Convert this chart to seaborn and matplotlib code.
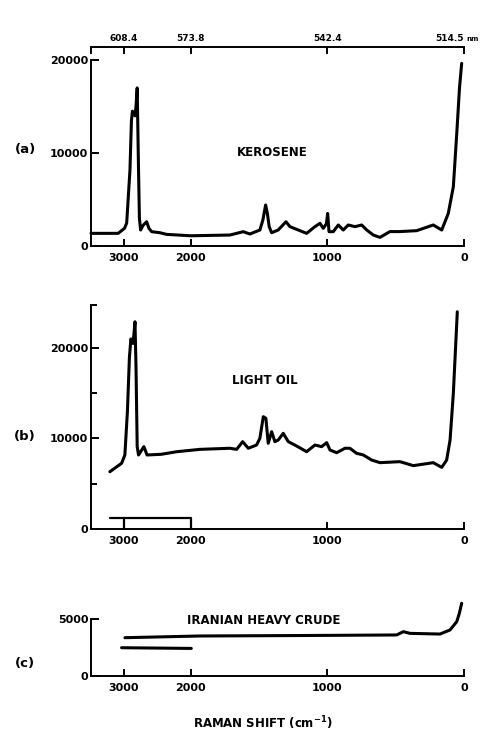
import numpy as np
import pandas as pd
import matplotlib
matplotlib.use("Agg")
import matplotlib.pyplot as plt
import seaborn as sns

# ---------------- data (Raman shift in cm^-1, intensity in counts) ----------------
kero_shift = [3490, 3084, 2990, 2957, 2908, 2886, 2871, 2833, 2818, 2800, 2782, 2767, 2749,
              2714, 2659, 2625, 2584, 2461, 2361, 2000, 1713, 1616, 1567, 1494, 1472, 1452,
              1439, 1426, 1408, 1360, 1303, 1274, 1213, 1152, 1091, 1054, 1030, 1007, 998,
              988, 957, 920, 884, 847, 798, 749, 712, 664, 615, 542, 469, 346, 225, 163,
              115, 78, 53, 33, 17]
kero_int = [1360, 1360, 1900, 2470, 8170, 13500, 14500, 14000, 15000, 17000, 9000, 3000, 1720,
            2200, 2610, 1900, 1540, 1430, 1250, 1100, 1180, 1540, 1290, 1720, 2800, 4410,
            3500, 2080, 1430, 1720, 2610, 2080, 1720, 1360, 2080, 2440, 1900, 2400, 3500,
            1540, 1540, 2260, 1720, 2260, 2080, 2260, 1720, 1180, 930, 1550, 1550, 1650, 2260, 1720,
            3500, 6380, 12100, 17000, 19640]

light_shift = [3208, 3033, 2984, 2946, 2916, 2894, 2863, 2849, 2833, 2818, 2800, 2780, 2700,
               2653, 2445, 2210, 1933, 1713, 1664, 1620, 1579, 1518, 1494, 1469, 1450, 1433,
               1408, 1384, 1360, 1323, 1286, 1225, 1152, 1091, 1042, 1005, 981, 932, 871,
               835, 786, 737, 676, 615, 469, 371, 225, 163, 127, 102, 78, 49]
light_int = [6330, 7260, 8180, 13000, 19000, 21000, 20500, 21500, 22900, 18000, 9100, 8180, 9100,
             8180, 8250, 8540, 8800, 8920, 8800, 9650, 8920, 9280, 10020, 12410, 12230, 9470,
             10750, 9650, 9830, 10570, 9650, 9170, 8540, 9280, 9100, 9540, 8730, 8430, 8920,
             8920, 8360, 8180, 7620, 7330, 7440, 7000, 7330, 6810, 7620, 9830, 15000, 24000]

light_bar_shift = [3200, 2000, 2000]
light_bar_int = [1250, 1250, 0]
light_bar2_shift = [3000, 3000]
light_bar2_int = [1250, 0]

crude_shift = [2983, 1933, 1200, 493, 444, 395, 176, 102, 53, 34, 17]
crude_int = [3360, 3510, 3550, 3600, 3890, 3740, 3680, 4040, 4770, 5500, 6380]
crude_low_shift = [3033, 1996]
crude_low_int = [2480, 2420]

bottom_ticks = [3000, 2000, 1000, 0]
bottom_labels = ["3000", "2000", "1000", "0"]
top_labels = ["608.4", "573.8", "542.4", "514.5"]
top_unit = "nm"

# ---------------- style ----------------
sns.set_theme(style="white")
plt.rcParams["font.family"] = ["DejaVu Sans"]
plt.rcParams["font.weight"] = "bold"

COMP = 0.49  # compression of the 2000-3000 cm^-1 region


def fwd(s):
    s = np.asarray(s, dtype=float)
    return np.where(s <= 2000, s, 2000 + (s - 2000) * COMP)


def inv(u):
    u = np.asarray(u, dtype=float)
    return np.where(u <= 2000, u, 2000 + (u - 2000) / COMP)


XLIM = (3490, 0)
LW = 2.2
SPW = 1.4

fig = plt.figure(figsize=(4.86, 7.31), dpi=100)
L, W = 91 / 486, 373 / 486
ax_a = fig.add_axes([L, 1 - 246 / 731, W, (246 - 47) / 731])
ax_b = fig.add_axes([L, 1 - 529 / 731, W, (529 - 305) / 731])
ax_c = fig.add_axes([L, 1 - 676 / 731, W, (676 - 619) / 731])


def style_axis(ax, ylim, yticks, ylabels, yminor, ybounds):
    ax.set_xscale("function", functions=(fwd, inv))
    ax.set_xlim(*XLIM)
    ax.set_ylim(*ylim)
    ax.set_facecolor("white")
    for sp in ["top", "right"]:
        ax.spines[sp].set_visible(False)
    for sp in ["left", "bottom"]:
        ax.spines[sp].set_color("black")
        ax.spines[sp].set_linewidth(SPW)
    ax.spines["left"].set_bounds(*ybounds)
    ax.set_xticks(bottom_ticks)
    ax.set_xticklabels(bottom_labels)
    ax.set_xticks([], minor=True)
    ax.set_yticks(yticks)
    ax.set_yticklabels(ylabels)
    ax.set_yticks(yminor, minor=True)
    ax.tick_params(axis="x", which="major", direction="in", length=5, width=SPW,
                   pad=5, labelsize=8, colors="black", bottom=True)
    ax.tick_params(axis="y", which="both", direction="in", length=6, width=SPW,
                   pad=2, labelsize=8, colors="black", left=True)
    ax.tick_params(axis="y", which="minor", length=4)
    for t in ax.get_xticklabels() + ax.get_yticklabels():
        t.set_fontweight("bold")
    ax.set_xlabel("")
    ax.set_ylabel("")
    ax.grid(False)


# (a) kerosene
df_a = pd.DataFrame({"shift": kero_shift, "intensity": kero_int})
sns.lineplot(data=df_a, x="shift", y="intensity", ax=ax_a, sort=False, estimator=None,
             color="black", linewidth=LW)
style_axis(ax_a, (0, 21400), [0, 10000, 20000], ["0", "10000", "20000"], [], (0, 20000))

ax_top = ax_a.twiny()
ax_top.set_xscale("function", functions=(fwd, inv))
ax_top.set_xlim(*XLIM)
for sp in ["bottom", "left", "right"]:
    ax_top.spines[sp].set_visible(False)
ax_top.spines["top"].set_color("black")
ax_top.spines["top"].set_linewidth(SPW)
ax_top.set_xticks(bottom_ticks)
ax_top.set_xticklabels(top_labels)
ax_top.set_xticks([3490], minor=True)
ax_top.tick_params(axis="x", which="both", direction="in", length=5, width=SPW,
                   pad=3, labelsize=6.5, colors="black")
for t in ax_top.get_xticklabels():
    t.set_fontweight("bold")
ax_top.get_xticklabels()[-1].set_horizontalalignment("right")
ax_top.grid(False)

# (b) light oil
df_b = pd.DataFrame({"shift": light_shift, "intensity": light_int})
sns.lineplot(data=df_b, x="shift", y="intensity", ax=ax_b, sort=False, estimator=None,
             color="black", linewidth=LW, clip_on=False)
sns.lineplot(x=light_bar_shift, y=light_bar_int, ax=ax_b, sort=False, estimator=None,
             color="black", linewidth=1.6)
sns.lineplot(x=light_bar2_shift, y=light_bar2_int, ax=ax_b, sort=False, estimator=None,
             color="black", linewidth=1.6)
style_axis(ax_b, (0, 24750), [0, 10000, 20000], ["0", "10000", "20000"],
           [5000, 15000, 24750], (0, 24750))

# (c) Iranian heavy crude
df_c = pd.DataFrame({"shift": crude_shift, "intensity": crude_int})
sns.lineplot(data=df_c, x="shift", y="intensity", ax=ax_c, sort=False, estimator=None,
             color="black", linewidth=LW, clip_on=False)
sns.lineplot(x=crude_low_shift, y=crude_low_int, ax=ax_c, sort=False, estimator=None,
             color="black", linewidth=LW)
style_axis(ax_c, (0, 5000), [0, 5000], ["0", "5000"], [], (0, 5000))

for ax in (ax_a, ax_b, ax_c):
    for ln in ax.get_lines():
        ln.set_clip_on(False)
    leg = ax.get_legend()
    if leg is not None:
        leg.remove()


def ftext(x, y, s, size, ha="center", **kw):
    fig.text(x / 486, 1 - y / 731, s, fontsize=size, fontweight="bold",
             ha=ha, va="center", color="black", **kw)


ftext(466, 39, top_unit, 5, ha="left")
ftext(25, 150, "(a)", 9.5)
ftext(25, 436, "(b)", 9.5)
ftext(25, 664, "(c)", 9.5)
ftext(272, 152, "KEROSENE", 8.5)
ftext(265, 380, "LIGHT OIL", 8.5)
ftext(264, 621, "IRANIAN HEAVY CRUDE", 8.5)
ftext(263, 723, "RAMAN SHIFT (cm$^{\\mathbf{-1}}$)", 8.5)

fig.savefig("out.png", dpi=100, facecolor="white")
